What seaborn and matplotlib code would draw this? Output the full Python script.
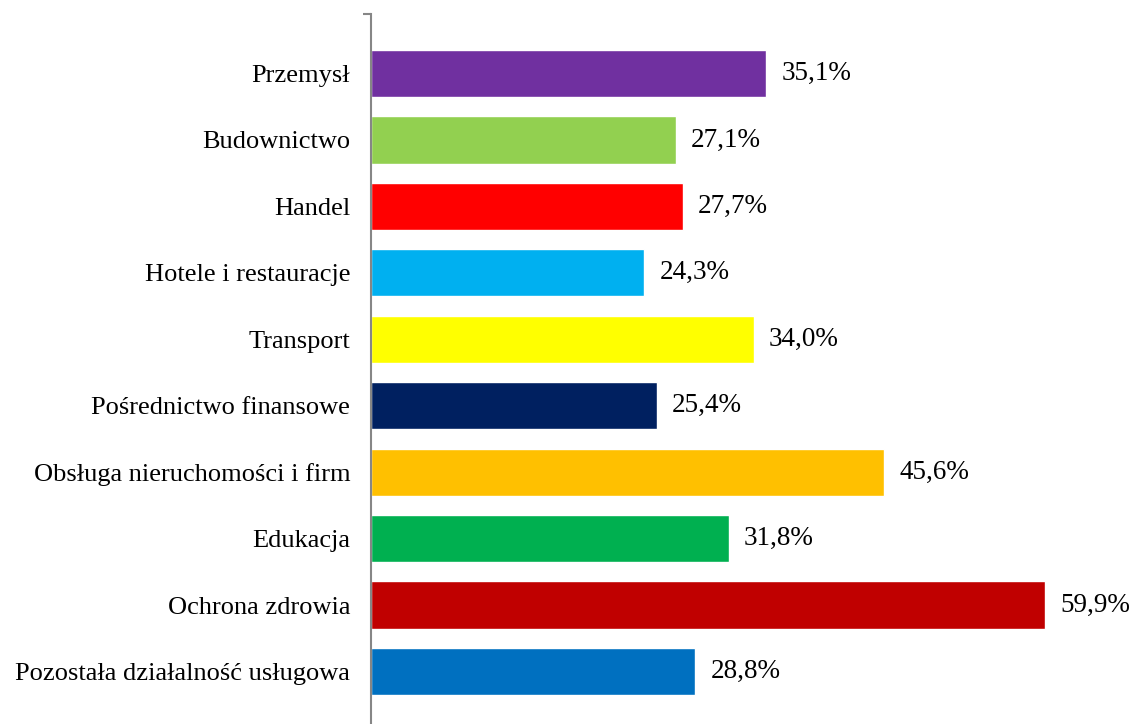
import matplotlib
matplotlib.use("Agg")
import matplotlib.pyplot as plt
import seaborn as sns
import pandas as pd

categories = [
    "Przemysł",
    "Budownictwo",
    "Handel",
    "Hotele i restauracje",
    "Transport",
    "Pośrednictwo finansowe",
    "Obsługa nieruchomości i firm",
    "Edukacja",
    "Ochrona zdrowia",
    "Pozostała działalność usługowa",
]
values = [35.1, 27.1, 27.7, 24.3, 34.0, 25.4, 45.6, 31.8, 59.9, 28.8]
colors = [
    "#7030A0", "#92D050", "#FF0000", "#00B0F0", "#FFFF00",
    "#002060", "#FFC000", "#00B050", "#C00000", "#0070C0",
]

sns.set_style("white")
plt.rcParams["font.family"] = ["Liberation Serif", "DejaVu Serif"]

df = pd.DataFrame({"sektor": categories, "udzial": values})

fig = plt.figure(figsize=(11.34, 7.24), dpi=100)
ax = fig.add_axes([371 / 1134, 0.0, 1 - 371 / 1134, 1 - 14 / 724])

sns.barplot(
    data=df, x="udzial", y="sektor", hue="sektor", palette=colors,
    orient="h", width=0.71, legend=False, saturation=1, ax=ax,
)

for cont, v in zip(ax.containers, values):
    ax.bar_label(cont, labels=[f"{v:.1f}%".replace(".", ",")],
                 padding=11, fontsize=19.5, color="black")

ax.set_xlim(0, (1134 - 371) / 11.25)
ax.set_ylim(9.79, -0.896)
ax.set_xlabel("")
ax.set_ylabel("")
ax.set_xticks([])
ax.tick_params(axis="y", which="major", left=False, length=0, pad=15,
               labelsize=19, labelcolor="black")
ax.set_yticks([-0.896], minor=True)
ax.tick_params(axis="y", which="minor", left=True, length=6, width=1.5,
               color="#868686")

for side in ["top", "right", "bottom"]:
    ax.spines[side].set_visible(False)
ax.spines["left"].set_color("#868686")
ax.spines["left"].set_linewidth(1.5)

fig.savefig("out.png", dpi=100)
